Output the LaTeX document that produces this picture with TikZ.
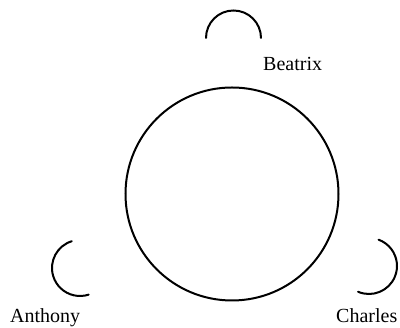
\documentclass[tikz,border=0pt]{standalone}
\usepackage{fontspec}
\setmainfont{Liberation Serif}
\usetikzlibrary{positioning}
\tikzset{x=1pt,y=1pt,
ring/.style={circle,draw,line width=2pt,inner sep=0pt,minimum size=213pt},
cup/.style={draw,line width=2pt,line cap=round},
lbl/.style={font=\fontsize{20}{24}\selectfont,inner sep=0pt,anchor=base west},
}
\begin{document}
\begin{tikzpicture}
	\useasboundingbox (0,0) rectangle (400,328);
	\node[ring] (table) at (232,134) {};

	\coordinate (cb) at (233.5,290);
	\coordinate (ca) at (80,60);
	\coordinate (cc) at (369,62);

	\draw[cup] ([shift={(0:27.5)}]cb) arc[start angle=0,end angle=180,radius=27.5];
	\draw[cup] ([shift={(107:28)}]ca) arc[start angle=107,end angle=288,radius=28];
	\draw[cup] ([shift={(-113:28)}]cc) arc[start angle=-113,end angle=70,radius=28];

	\node[lbl] (beatrix) at (263,257) {Beatrix};
	\node[lbl] (anthony) at (10,5) {Anthony};
	\node[lbl] (charles) at (336,5) {Charles};
\end{tikzpicture}
\end{document}
